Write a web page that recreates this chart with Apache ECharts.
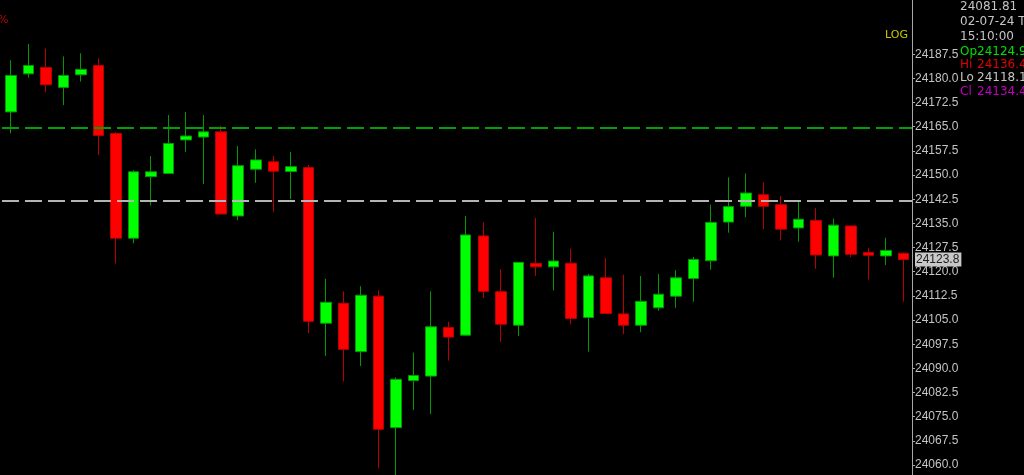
<!DOCTYPE html>
<html>
<head>
<meta charset="utf-8">
<style>
html,body{margin:0;padding:0;background:#000;overflow:hidden;}
#chart{width:1024px;height:475px;}
</style>
<script src="https://cdn.jsdelivr.net/npm/echarts@6/dist/echarts.min.js"></script>
</head>
<body>
<div id="chart"></div>
<script>
// ---- data ----
const categories = ['11:15','11:20','11:25','11:30','11:35','11:40','11:45','11:50','11:55','12:00',
  '12:05','12:10','12:15','12:20','12:25','12:30','12:35','12:40','12:45','12:50',
  '12:55','13:00','13:05','13:10','13:15','13:20','13:25','13:30','13:35','13:40',
  '13:45','13:50','13:55','14:00','14:05','14:10','14:15','14:20','14:25','14:30',
  '14:35','14:40','14:45','14:50','14:55','15:00','15:05','15:10','15:15','15:20',
  '15:25','15:30'];
const opens  = [24169.6,24181.4,24183.4,24177.2,24181.1,24184.0,24162.9,24130.4,24149.5,24150.5,
  24160.9,24161.8,24163.4,24137.3,24151.8,24154.1,24151.1,24152.3,24104.0,24110.2,
  24095.2,24112.4,24071.6,24086.2,24087.6,24102.7,24100.3,24131.1,24113.8,24103.4,
  24122.6,24121.5,24122.6,24105.8,24118.1,24106.9,24103.4,24108.8,24112.4,24117.9,
  24123.4,24135.4,24140.3,24143.9,24140.8,24133.6,24135.9,24124.90,24134.2,24126.0,
  24124.9,24125.7];
const closes = [24180.9,24184.0,24178.0,24180.9,24182.8,24162.3,24130.4,24151.0,24151.0,24159.8,
  24162.1,24163.4,24137.9,24152.9,24154.7,24151.2,24152.6,24104.6,24110.5,24095.9,
  24112.7,24071.1,24086.6,24087.8,24102.9,24099.7,24131.4,24113.9,24103.7,24122.9,
  24121.5,24123.3,24105.5,24118.7,24107.0,24103.4,24110.8,24113.0,24118.1,24123.8,
  24135.3,24140.2,24144.4,24140.3,24133.2,24136.3,24125.2,24134.45,24125.4,24125.1,
  24126.6,24123.8];
const lows   = [24162.9,24180.2,24175.7,24171.7,24179.0,24156.2,24122.6,24128.8,24140.6,24150.5,
  24157.2,24147.2,24137.9,24136.0,24147.6,24138.6,24142.5,24100.9,24093.9,24085.9,
  24090.7,24059.0,24056.3,24077.1,24075.8,24092.4,24100.0,24111.8,24098.2,24100.0,
  24118.7,24114.2,24103.7,24095.2,24107.0,24100.6,24101.2,24107.9,24108.8,24110.7,
  24120.6,24132.1,24136.9,24133.2,24129.7,24129.3,24120.9,24118.15,24124.5,24117.6,
  24122.1,24110.7];
const highs  = [24185.6,24190.7,24189.2,24186.8,24187.8,24186.2,24163.3,24151.5,24155.9,24168.6,
  24169.6,24168.6,24165.3,24159.0,24158.0,24155.9,24157.2,24153.1,24117.8,24113.9,
  24115.5,24114.2,24087.2,24094.9,24113.9,24104.5,24137.3,24135.4,24120.8,24122.9,
  24136.7,24132.4,24127.1,24119.3,24124.2,24119.1,24118.7,24119.3,24120.5,24124.6,
  24140.8,24149.3,24150.5,24147.7,24143.5,24142.2,24139.7,24136.45,24134.2,24127.3,
  24130.5,24126.0];
const tickValues = [24060.0,24067.5,24075.0,24082.5,24090.0,24097.5,24105.0,24112.5,24120.0,
  24127.5,24135.0,24142.5,24150.0,24157.5,24165.0,24172.5,24180.0,24187.5];
const greenLevel = 24164.7;
const grayLevel = 24142.0;
const cursorValue = '24081.81';
const infoDate = '02-07-24 Tue';
const infoTime = '15:10:00';
const infoIndex = 47;
const yMin = 24052.5, yMax = 24210;

// ---- chart ----
const candles = categories.map((c, i) => [opens[i], closes[i], lows[i], highs[i]]);
const last = closes[closes.length - 1];
const chart = echarts.init(document.getElementById('chart'), null, {renderer: 'canvas'});
const infoFont = '12px "DejaVu Sans"';
const fmt2 = v => v.toFixed(2);
chart.setOption({
  backgroundColor: '#000000',
  animation: false,
  grid: {left: 2, right: 112, top: -18.3, bottom: -14.2, containLabel: false, outerBoundsMode: 'none'},
  xAxis: {
    type: 'category', data: categories, boundaryGap: true, show: false
  },
  yAxis: {
    type: 'value', position: 'right', min: yMin, max: yMax,
    axisLine: {show: true, lineStyle: {color: '#a8a8a8', width: 1}},
    axisTick: {show: true, length: 3, customValues: tickValues, lineStyle: {color: '#a8a8a8'}},
    splitLine: {show: false},
    axisLabel: {color: '#c4c4c4', fontFamily: 'Liberation Sans', fontSize: 12, margin: 3,
      customValues: tickValues, formatter: v => v.toFixed(1)}
  },
  series: [{
    type: 'candlestick',
    data: candles,
    barWidth: 11,
    itemStyle: {
      color: '#00ff00', color0: '#ff0000',
      borderColor: '#009a00', borderColor0: '#b80000', borderWidth: 1
    },
    markLine: {
      silent: true, symbol: 'none', animation: false,
      data: [
        {yAxis: greenLevel, lineStyle: {color: '#00a000', width: 2, type: [17, 6]}, label: {show: false}},
        {yAxis: grayLevel, lineStyle: {color: '#b4b4b4', width: 2, type: [17, 6]}, label: {show: false}},
        {yAxis: last, lineStyle: {color: 'rgba(0,0,0,0)', width: 0}, label: {
          show: true, position: 'end', distance: 3,
          formatter: () => last.toFixed(1),
          color: '#202020', backgroundColor: '#c8c8c8',
          fontFamily: 'Liberation Sans', fontSize: 12, padding: [1, 2, 1, 1]
        }}
      ]
    }
  }],
  graphic: [
    {type: 'text', left: -2, top: 15, style: {text: '%', fill: '#c00000', font: '11px "DejaVu Sans"'}},
    {type: 'text', right: 116, top: 30, style: {text: 'LOG', fill: '#c8c800', font: '11px "DejaVu Sans"'}},
    {type: 'text', left: 960, top: 1, style: {text: cursorValue, fill: '#c4c4c4', font: infoFont}},
    {type: 'text', left: 960, top: 16, style: {text: infoDate, fill: '#c4c4c4', font: infoFont}},
    {type: 'text', left: 960, top: 31, style: {text: infoTime, fill: '#c4c4c4', font: infoFont}},
    {type: 'text', left: 960, top: 46, style: {text: 'Op', fill: '#00e000', font: infoFont}},
    {type: 'text', left: 977, top: 46, style: {text: fmt2(opens[infoIndex]), fill: '#00e000', font: infoFont}},
    {type: 'text', left: 960, top: 59, style: {text: 'Hi', fill: '#e00000', font: infoFont}},
    {type: 'text', left: 977, top: 59, style: {text: fmt2(highs[infoIndex]), fill: '#e00000', font: infoFont}},
    {type: 'text', left: 960, top: 72, style: {text: 'Lo', fill: '#c4c4c4', font: infoFont}},
    {type: 'text', left: 977, top: 72, style: {text: fmt2(lows[infoIndex]), fill: '#c4c4c4', font: infoFont}},
    {type: 'text', left: 960, top: 86, style: {text: 'Cl', fill: '#c000c0', font: infoFont}},
    {type: 'text', left: 977, top: 86, style: {text: fmt2(closes[infoIndex]), fill: '#c000c0', font: infoFont}}
  ]
});
</script>
</body>
</html>
